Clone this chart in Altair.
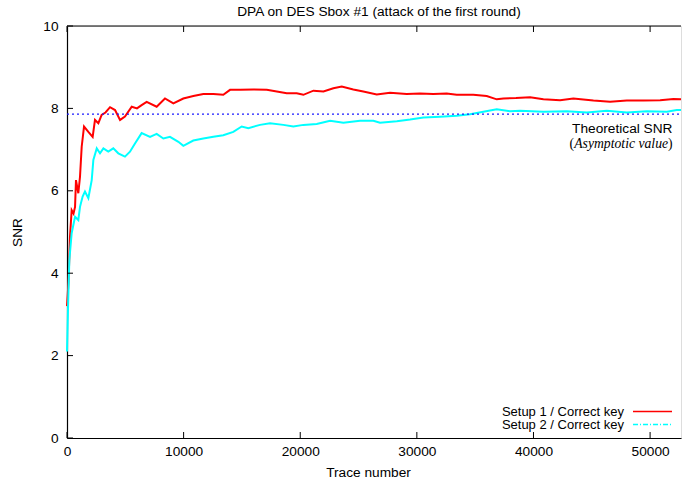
import altair as alt
import pandas as pd

# ---- data ----
red_x = [0, 130, 257, 400, 560, 690, 770, 970, 1115, 1260, 1460, 1830, 2200, 2400, 2690,
         2970, 3300, 3690, 4120, 4550, 4970, 5550, 6000, 6400, 6830, 7690, 8400, 9120,
         9975, 10830, 11690, 12550, 13400, 13980, 14840, 15980, 17130, 17990, 18840,
         19700, 20270, 21130, 21990, 22840, 23560, 24550, 25410, 26560, 27700, 29130,
         30270, 31410, 32560, 33420, 34840, 35990, 36850, 37420, 38500, 39710, 40850,
         42280, 43420, 45140, 46570, 48000, 49430, 50860, 52000, 52650]
red_y = [3.2, 3.8, 4.89, 5.53, 5.45, 5.61, 6.26, 5.94, 6.34, 7.07, 7.56, 7.43, 7.31, 7.72, 7.64,
         7.84, 7.90, 8.03, 7.96, 7.72, 7.80, 8.04, 8.00, 8.08, 8.16, 8.04, 8.24, 8.12,
         8.24, 8.30, 8.35, 8.35, 8.33, 8.45, 8.45, 8.46, 8.45, 8.41, 8.37,
         8.37, 8.33, 8.43, 8.41, 8.49, 8.53, 8.46, 8.41, 8.34, 8.38, 8.35,
         8.36, 8.35, 8.36, 8.33, 8.33, 8.30, 8.22, 8.24, 8.25, 8.27, 8.22,
         8.20, 8.24, 8.19, 8.16, 8.19, 8.19, 8.20, 8.23, 8.22]

cyan_x = [0, 100, 200, 400, 690, 970, 1115, 1340, 1540, 1830, 2120, 2260, 2550, 2830, 3120,
          3540, 3970, 4400, 4970, 5400, 5830, 6400, 7120, 7690, 8260, 8830, 9550, 9975,
          10830, 11690, 12550, 13400, 14260, 14980, 15550, 16550, 17410, 18550, 19410,
          20270, 21410, 22560, 23700, 25130, 26270, 26840, 28280, 29420, 30560, 31990,
          33420, 34560, 35700, 36850, 37990, 38850, 40850, 42860, 44570, 46290, 48000,
          49720, 51430, 52290, 52650]
cyan_y = [2.1, 3.3, 4.32, 4.97, 5.37, 5.29, 5.61, 5.86, 5.98, 5.82, 6.26, 6.75, 7.03, 6.91, 7.03,
          6.95, 7.03, 6.91, 6.83, 6.95, 7.15, 7.40, 7.31, 7.38, 7.27, 7.31, 7.19, 7.09,
          7.22, 7.27, 7.31, 7.35, 7.43, 7.56, 7.52, 7.60, 7.64, 7.60, 7.56,
          7.60, 7.62, 7.70, 7.65, 7.70, 7.70, 7.65, 7.69, 7.73, 7.78, 7.80,
          7.82, 7.86, 7.92, 7.98, 7.93, 7.94, 7.92, 7.93, 7.90, 7.94, 7.90,
          7.93, 7.92, 7.96, 7.96]

theory_snr = [7.86]
x_ticks = [0, 10000, 20000, 30000, 40000, 50000]
y_ticks = [0, 2, 4, 6, 8, 10]
series_names = ["Setup 1 / Correct key", "Setup 2 / Correct key"]

W, H = 614, 412
FONT = "Liberation Sans"
FS = 13.7
LFS = 13

xs = alt.Scale(domain=[0, 52650], nice=False, zero=False)
ys = alt.Scale(domain=[0, 10], nice=False)

xaxis = alt.Axis(values=x_ticks, format="d", title="Trace number", ticks=False, grid=False,
                 labelPadding=6, labelFlush=False, domainColor="black", domainWidth=1.2,
                 labelFont=FONT, labelFontSize=FS, labelColor="black",
                 titleFont=FONT, titleFontSize=FS, titleFontWeight="normal", titleColor="black",
                 titleX=301, titleY=34, titleBaseline="middle")
yaxis = alt.Axis(values=y_ticks, format="d", title="SNR", ticks=False, grid=False,
                 labelPadding=9, domainColor="black", domainWidth=1.2,
                 labelFont=FONT, labelFontSize=FS, labelColor="black",
                 titleFont=FONT, titleFontSize=FS, titleFontWeight="normal", titleColor="black",
                 titleX=-50, titleY=206, titleBaseline="middle", titleAlign="center")

def X(f):
    return alt.X(f, type="quantitative", scale=xs, axis=xaxis)

def Y(f):
    return alt.Y(f, type="quantitative", scale=ys, axis=yaxis)

red_df = pd.DataFrame({"x": red_x, "y": red_y})
cyan_df = pd.DataFrame({"x": cyan_x, "y": cyan_y})
th_df = pd.DataFrame({"y": theory_snr})
xt_df = pd.DataFrame({"t": x_ticks})
yt_df = pd.DataFrame({"t": y_ticks})

red = alt.Chart(red_df).mark_line(color="#ff0000", strokeWidth=2).encode(x=X("x"), y=Y("y"))
cyan = alt.Chart(cyan_df).mark_line(color="#00ffff", strokeWidth=2).encode(x=X("x"), y=Y("y"))
theory = alt.Chart(th_df).mark_rule(color="#1a1aff", strokeWidth=1.3, strokeDash=[2, 3]).encode(
    y=Y("y"), x=alt.value(0), x2=alt.value(W))

top_ticks = alt.Chart(xt_df).mark_rule(color="black", strokeWidth=1).encode(
    x=X("t"), y=alt.value(0), y2=alt.value(6))
bot_ticks = alt.Chart(xt_df).mark_rule(color="black", strokeWidth=1).encode(
    x=X("t"), y=alt.value(H), y2=alt.value(H - 6))
left_ticks = alt.Chart(yt_df).mark_rule(color="black", strokeWidth=1).encode(
    y=Y("t"), x=alt.value(0), x2=alt.value(6))
top_border = alt.Chart(th_df).mark_rule(color="black", strokeWidth=1.2).encode(
    x=alt.value(0), x2=alt.value(W), y=alt.value(0))

ann1 = alt.Chart(th_df).mark_text(align="right", baseline="middle", font=FONT, fontSize=FS,
                                  color="black").encode(
    x=alt.value(605.5), y=alt.value(103.3), text=alt.value("Theoretical SNR"))
ann_l = alt.Chart(th_df).mark_text(align="right", baseline="middle", font="Liberation Serif",
                                   fontSize=FS, color="black").encode(
    x=alt.value(507.1), y=alt.value(117.8), text=alt.value("("))
ann_m = alt.Chart(th_df).mark_text(align="right", baseline="middle", font="Liberation Serif",
                                   fontSize=FS, fontStyle="italic", color="black").encode(
    x=alt.value(601.1), y=alt.value(117.8), text=alt.value("Asymptotic value"))
ann_r = alt.Chart(th_df).mark_text(align="left", baseline="middle", font="Liberation Serif",
                                   fontSize=FS, color="black").encode(
    x=alt.value(601.1), y=alt.value(117.8), text=alt.value(")"))

leg_t1 = alt.Chart(th_df).mark_text(align="right", baseline="middle", font=FONT, fontSize=LFS,
                                    color="black").encode(
    x=alt.value(557), y=alt.value(385.8), text=alt.value(series_names[0]))
leg_t2 = alt.Chart(th_df).mark_text(align="right", baseline="middle", font=FONT, fontSize=LFS,
                                    color="black").encode(
    x=alt.value(557), y=alt.value(398.8), text=alt.value(series_names[1]))
leg_l1 = alt.Chart(th_df).mark_rule(color="#ff0000", strokeWidth=1.3).encode(
    x=alt.value(566), x2=alt.value(605), y=alt.value(385.5))
leg_l2 = alt.Chart(th_df).mark_rule(color="#00ffff", strokeWidth=1.3, strokeDash=[5, 2, 1, 2]).encode(
    x=alt.value(566), x2=alt.value(605), y=alt.value(398.5))

chart = alt.layer(
    red, cyan, theory, top_ticks, bot_ticks, left_ticks, top_border,
    ann1, ann_l, ann_m, ann_r, leg_t1, leg_t2, leg_l1, leg_l2
).properties(
    width=W, height=H,
    title=alt.TitleParams("DPA on DES Sbox #1 (attack of the first round)", anchor="middle",
                          dx=5, offset=0, font=FONT, fontSize=FS, fontWeight="normal",
                          color="black"),
    autosize=alt.AutoSizeParams(type="none"),
    padding={"left": 67, "top": 26, "right": 1, "bottom": 48},
).configure_view(stroke=None).configure(background="white")

chart.save("out.html", embed_options={"renderer": "svg", "actions": False})
